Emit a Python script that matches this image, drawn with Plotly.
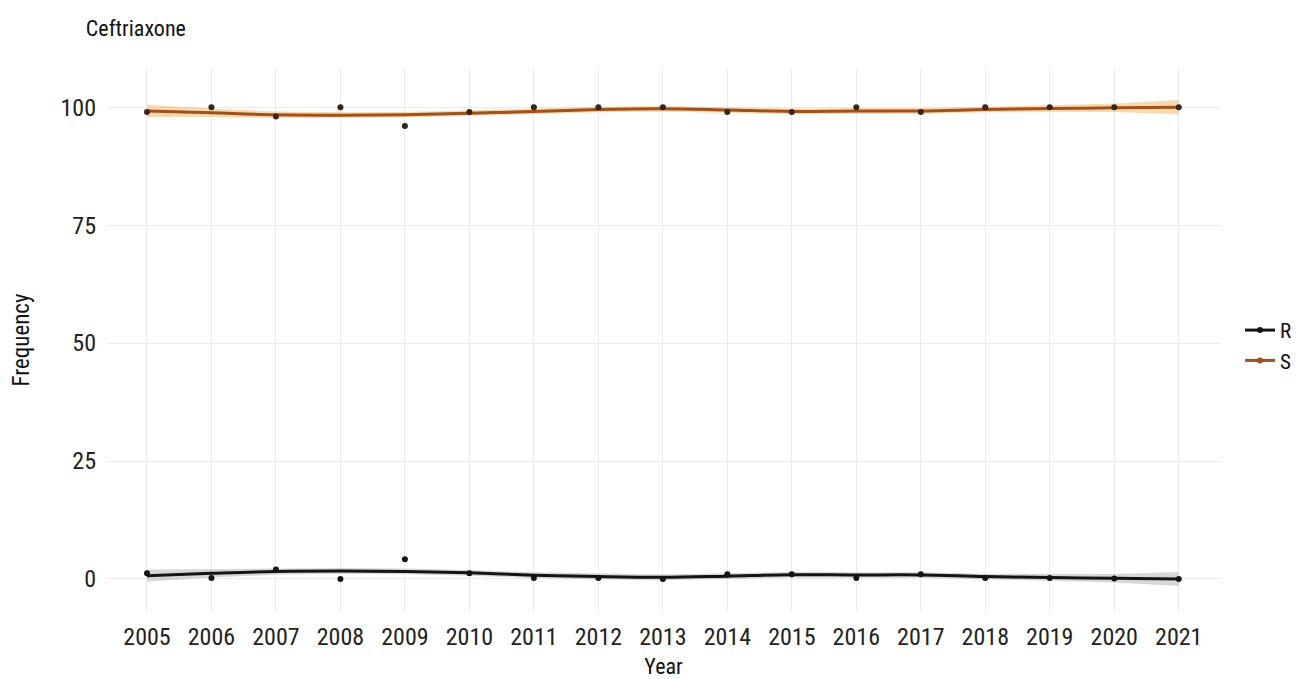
import plotly.graph_objects as go

years = list(range(2005, 2022))
year_labels = [str(y) for y in years]

# observed frequencies
R_obs = [1.2, 0.2, 2.0, 0.0, 4.2, 1.2, 0.2, 0.2, 0.0, 1.0, 1.0, 0.2, 1.0, 0.2, 0.2, 0.1, 0.0]
S_obs = [99.0, 100.0, 98.0, 100.0, 96.0, 99.0, 100.0, 100.0, 100.0, 99.0, 99.0, 100.0, 99.0, 100.0, 100.0, 100.0, 100.0]

# smoothed fits
R_fit = [0.7, 1.2, 1.6, 1.7, 1.6, 1.3, 0.8, 0.5, 0.35, 0.6, 0.9, 0.85, 0.85, 0.5, 0.3, 0.15, 0.0]
S_fit = [99.2, 98.8, 98.4, 98.3, 98.4, 98.7, 99.1, 99.5, 99.65, 99.4, 99.1, 99.2, 99.2, 99.5, 99.7, 99.85, 100.0]
band_half = [1.3, 0.9, 0.7, 0.6, 0.6, 0.6, 0.6, 0.6, 0.6, 0.6, 0.6, 0.6, 0.6, 0.6, 0.7, 0.9, 1.5]

y_ticks = [0, 25, 50, 75, 100]

FONT = "Liberation Sans Narrow, Roboto Condensed, Arial Narrow, Roboto, sans-serif"

fig = go.Figure()

series = [
    ("R", R_obs, R_fit, "#141414", "rgba(140,140,140,0.35)", "#141414"),
    ("S", S_obs, S_fit, "#A0521A", "rgba(243,168,80,0.45)", "#3a2416"),
]

for name, obs, fit, lc, fc, pc in series:
    upper = [f + h for f, h in zip(fit, band_half)]
    lower = [f - h for f, h in zip(fit, band_half)]
    fig.add_trace(go.Scatter(
        x=years + years[::-1], y=upper + lower[::-1],
        fill="toself", fillcolor=fc, line=dict(width=0),
        hoverinfo="skip", showlegend=False, legendgroup=name,
    ))
    fig.add_trace(go.Scatter(
        x=years, y=fit, mode="lines", line=dict(color=lc, width=3, shape="spline"),
        name=name, legendgroup=name, showlegend=False,
    ))
    fig.add_trace(go.Scatter(
        x=years, y=obs, mode="markers", marker=dict(color=pc, size=6),
        name=name, legendgroup=name, showlegend=False,
    ))
    # legend entry
    fig.add_trace(go.Scatter(
        x=[None], y=[None], mode="lines+markers",
        line=dict(color=lc, width=3), marker=dict(color=lc, size=6),
        name=name, legendgroup=name, showlegend=True,
    ))

fig.update_layout(
    width=1301, height=679,
    paper_bgcolor="white", plot_bgcolor="white",
    margin=dict(l=107, r=81, t=68, b=67, autoexpand=False),
    font=dict(family=FONT, size=24, color="#222"),
    title=dict(text="Ceftriaxone", x=0.066, xanchor="left", y=0.958, yanchor="middle",
               font=dict(family=FONT, size=22, color="#111")),
    legend=dict(x=1.018, y=0.49, xanchor="left", yanchor="middle",
                font=dict(family=FONT, size=21, color="#111"),
                tracegroupgap=0, itemwidth=30, bgcolor="rgba(0,0,0,0)"),
    showlegend=True,
)

fig.update_xaxes(
    range=[2004.38, 2021.64], tickmode="array", tickvals=years, ticktext=year_labels,
    showgrid=True, gridcolor="#ebebeb", gridwidth=1, zeroline=False, showline=False,
    automargin=False,
    ticks="", tickfont=dict(family=FONT, size=24, color="#222"), ticklabelstandoff=8,
    title=dict(text="Year", font=dict(family=FONT, size=22, color="#111"), standoff=13),
)
fig.update_yaxes(
    range=[-7.0, 108.3], tickmode="array", tickvals=y_ticks,
    showgrid=True, gridcolor="#ebebeb", gridwidth=1, zeroline=False, showline=False,
    automargin=False,
    ticks="", tickfont=dict(family=FONT, size=24, color="#222"), ticklabelstandoff=10,
    title=dict(text="Frequency", font=dict(family=FONT, size=23, color="#111"), standoff=24),
)

fig.write_html("out.html")
